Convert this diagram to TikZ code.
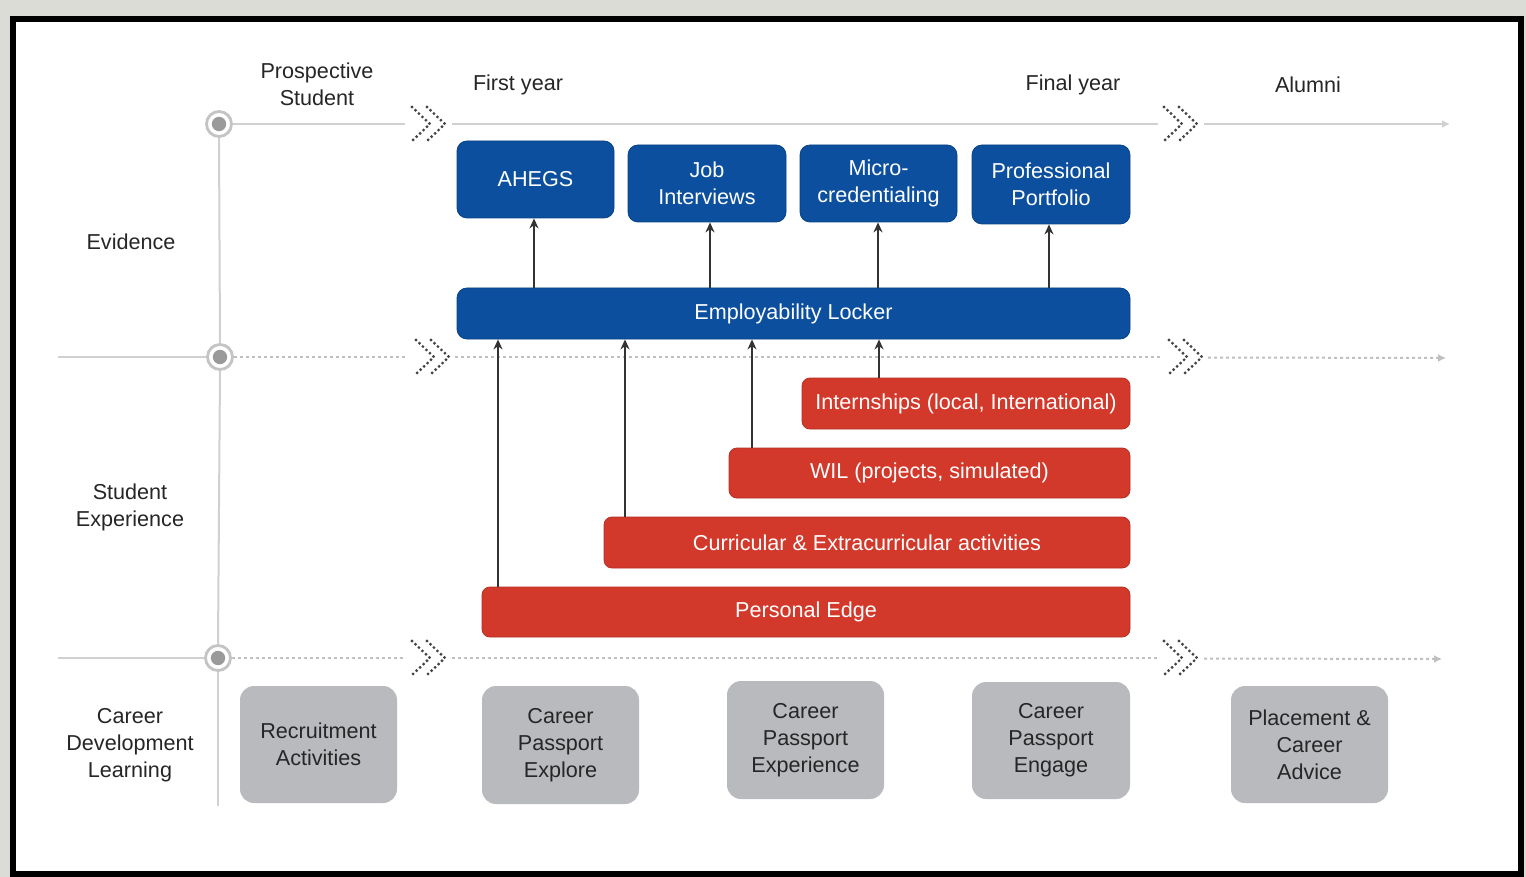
\documentclass[tikz,border=0pt]{standalone}
\usepackage{fontspec}
\setmainfont{Liberation Sans}
\usetikzlibrary{arrows.meta}
\definecolor{bgray}{HTML}{DCDCD7}
\definecolor{dblue}{HTML}{0B4F9E}
\definecolor{dred}{HTML}{D3392B}
\definecolor{boxgray}{HTML}{B9BABE}
\definecolor{txt}{HTML}{262626}
\definecolor{linec}{HTML}{D0D0D0}
\definecolor{dotc}{HTML}{9A9A9A}
\definecolor{chevc}{HTML}{444444}
\newcommand\chevpair[2]{%
  \draw[chevst] (#1,#2-17) -- (#1+18,#2) -- (#1,#2+17);
  \draw[chevst] (#1+15,#2-17) -- (#1+33,#2) -- (#1+15,#2+17);}
\begin{document}
\begin{tikzpicture}[x=0.5pt,y=-0.5pt,
  every node/.style={font=\fontsize{10.8}{13.5}\selectfont},
  bluebox/.style={draw=dblue!85!black, line width=0.4pt, fill=dblue, text=white, rounded corners=5pt, align=center, inner sep=0pt},
  redbox/.style={draw=dred!85!black, line width=0.4pt, fill=dred, text=white, rounded corners=4pt, align=center, inner sep=0pt},
  graybox/.style={fill=boxgray, text=txt, rounded corners=7pt, align=center, inner sep=0pt},
  lbl/.style={text=txt, align=center},
  ring/.style={circle, draw=linec!85!gray, line width=1.4pt, minimum size=12.5pt, inner sep=0pt},
  tlsolid/.style={draw=linec, line width=1pt},
  tldot/.style={draw=linec!80!gray, line width=1pt, dash pattern=on 1.5pt off 1.5pt},
  tlarrow/.style={-{Latex[length=4pt,width=4pt]}},
  chevst/.style={draw=chevc, line width=1.6pt, line cap=round, dash pattern=on 0pt off 2.4pt},
  arr/.style={draw=black!80, line width=0.9pt, -{Stealth[length=5pt,width=4.5pt]}}
]
\useasboundingbox (0,0) rectangle (1526,877);
\fill[bgray] (0,0) rectangle (1526,877);
\draw[line width=3pt, fill=white] (12.5,19.5) rectangle (1521,873.5);

% timeline markers
\node[ring] (c1) at (219,124) {};
\node[ring] (c2) at (220,357) {};
\node[ring] (c3) at (218,658) {};
\fill[dotc] (c1.center) circle (3.6pt);
\fill[dotc] (c2.center) circle (3.6pt);
\fill[dotc] (c3.center) circle (3.6pt);

\coordinate (l2s) at (58,357);
\coordinate (l3s) at (58,658);
\coordinate (e1) at (1450,124);
\coordinate (e2) at (1446,358);
\coordinate (e3) at (1442,659);
\coordinate (vb) at (218,806);

% vertical line
\draw[tlsolid] (c1.south) -- (c2.north);
\draw[tlsolid] (c2.south) -- (c3.north);
\draw[tlsolid] (c3.south) -- (vb);

% line 1
\draw[tlsolid] (c1.east) -- (405,124);
\draw[tlsolid] (452,124) -- (1158,124);
\draw[tlsolid, tlarrow] (1204,124) -- (e1);
\chevpair{412}{124}
\chevpair{1164}{124}
% line 2
\draw[tlsolid] (l2s) -- (c2.west);
\draw[tldot] (c2.east) -- (407,357);
\draw[tldot] (455,357) -- (1162,357);
\draw[tldot, tlarrow] (1208,357.5) -- (e2);
\chevpair{416}{357}
\chevpair{1169}{357}
% line 3
\draw[tlsolid] (l3s) -- (c3.west);
\draw[tldot] (c3.east) -- (404,658);
\draw[tldot] (452,658) -- (1157,658);
\draw[tldot, tlarrow] (1204,658.5) -- (e3);
\chevpair{412}{658}
\chevpair{1164}{658}

% header labels
\node[lbl] (hps) at (317,84) {Prospective\\Student};
\node[lbl] (hfy) at (518,85) {First year};
\node[lbl] (hly) at (1073,85) {Final year};
\node[lbl] (hal) at (1308,85) {Alumni};
% row labels
\node[lbl] (rev) at (131,242) {Evidence};
\node[lbl] (rse) at (130,507) {Student\\Experience};
\node[lbl] (rcd) at (130,745) {Career\\Development\\Learning};

% blue boxes
\node[bluebox, minimum width=78.5pt, minimum height=38.5pt] (ahegs) at (535.5,179.5) {AHEGS};
\node[bluebox, minimum width=79pt, minimum height=38.5pt] (job) at (707,183.5) {Job\\Interviews};
\node[bluebox, minimum width=78.5pt, minimum height=38.5pt] (micro) at (878.5,183.5) {Micro-\\credentialing};
\node[bluebox, minimum width=79pt, minimum height=39.5pt] (port) at (1051,184.5) {Professional\\Portfolio};
\node[bluebox, minimum width=336.5pt, minimum height=25.5pt] (locker) at (793.5,313.5) {Employability Locker};

% red boxes
\node[redbox, minimum width=164pt, minimum height=25.5pt] (intern) at (966,403.5) {Internships (local, International)};
\node[redbox, minimum width=200.5pt, minimum height=25pt] (wil) at (929.5,473) {WIL (projects, simulated)};
\node[redbox, minimum width=263pt, minimum height=25.5pt] (curr) at (867,542.5) {Curricular \& Extracurricular activities};
\node[redbox, minimum width=324pt, minimum height=25pt] (pe) at (806,612) {Personal Edge};

% gray boxes
\node[graybox, minimum width=78.5pt, minimum height=58.5pt] (recr) at (318.5,744.5) {Recruitment\\Activities};
\node[graybox, minimum width=78.5pt, minimum height=59pt] (expl) at (560.5,745) {Career\\Passport\\Explore};
\node[graybox, minimum width=78.5pt, minimum height=59pt] (expe) at (805.5,740) {Career\\Passport\\Experience};
\node[graybox, minimum width=79pt, minimum height=58.5pt] (enga) at (1051,740.5) {Career\\Passport\\Engage};
\node[graybox, minimum width=78.5pt, minimum height=58.5pt] (plac) at (1309.5,744.5) {Placement \&\\Career\\Advice};

% arrows locker -> evidence
\draw[arr] (locker.north -| 534,0) -- (ahegs.south -| 534,0);
\draw[arr] (locker.north -| 710,0) -- (job.south -| 710,0);
\draw[arr] (locker.north -| 878,0) -- (micro.south -| 878,0);
\draw[arr] (locker.north -| 1049,0) -- (port.south -| 1049,0);
% arrows experience -> locker
\draw[arr] (pe.north -| 498,0) -- (locker.south -| 498,0);
\draw[arr] (curr.north -| 625,0) -- (locker.south -| 625,0);
\draw[arr] (wil.north -| 752,0) -- (locker.south -| 752,0);
\draw[arr] (intern.north -| 879,0) -- (locker.south -| 879,0);
\end{tikzpicture}
\end{document}
